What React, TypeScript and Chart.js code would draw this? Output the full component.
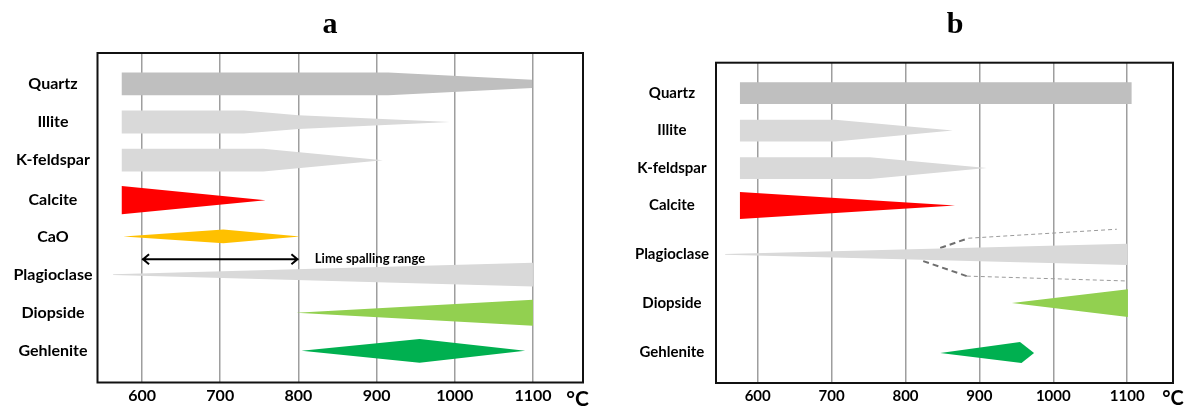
import React, { useEffect, useRef } from 'react';
import { Chart, registerables } from 'chart.js';

Chart.register(...registerables);

type Pt = [number, number];

// ---------- shared ----------
const tempTicks = [600, 700, 800, 900, 1000, 1100];
const unitLabel = '°C';

// ---------- panel a ----------
const titleA = 'a';
const mineralsA = ['Quartz', 'Illite', 'K-feldspar', 'Calcite', 'CaO', 'Plagioclase', 'Diopside', 'Gehlenite'];
const rowsA = [0, 1, 2, 3.05, 4, 5, 6, 7];
const unitTickA = 1157;
// outlines: [temperature °C, offset from the row centre in row units]
const quartzA: Pt[] = [[574, -0.3], [915, -0.3], [1099, -0.11], [1099, 0.11], [915, 0.3], [574, 0.3]];
const illiteA: Pt[] = [[574, -0.3], [730, -0.3], [800, -0.18], [994, 0], [800, 0.18], [730, 0.3], [574, 0.3]];
const kfeldsparA: Pt[] = [[574, -0.3], [755, -0.3], [908, 0], [755, 0.3], [574, 0.3]];
const calciteA: Pt[] = [[574, -0.37], [758, 0], [574, 0.37]];
const caoA: Pt[] = [[576, 0], [704, -0.18], [802, 0], [704, 0.18]];
const plagioclaseA: Pt[] = [[563, -0.01], [1100, -0.31], [1100, 0.31], [563, 0.01]];
const diopsideA: Pt[] = [[797, 0], [1100, -0.34], [1100, 0.34]];
const gehleniteA: Pt[] = [[804, 0], [955, -0.31], [1090, 0], [955, 0.31]];
const limeRange = [600, 800];
const limeRow = 4.6;
const limeLabel = 'Lime spalling range';
const limeLabelT = 821;

// ---------- panel b ----------
const titleB = 'b';
const mineralsB = ['Quartz', 'Illite', 'K-feldspar', 'Calcite', 'Plagioclase', 'Diopside', 'Gehlenite'];
const rowsB = [0, 1, 2, 3, 4.3, 5.6, 6.9];
const unitTickB = 1162;
const quartzB: Pt[] = [[576, -0.29], [1106, -0.29], [1106, 0.29], [576, 0.29]];
const illiteB: Pt[] = [[576, -0.29], [705, -0.29], [864, 0], [705, 0.29], [576, 0.29]];
const kfeldsparB: Pt[] = [[576, -0.29], [752, -0.29], [910, 0], [752, 0.29], [576, 0.29]];
const calciteB: Pt[] = [[576, -0.36], [867, 0], [576, 0.36]];
const plagioclaseB: Pt[] = [[556, -0.01], [1100, -0.285], [1100, 0.285], [556, 0.01]];
const diopsideB: Pt[] = [[944, 0], [1101, -0.37], [1101, 0.37]];
const gehleniteB: Pt[] = [[847, 0.03], [955, -0.26], [974, 0.03], [957, 0.3]];
const plagUpperDash: Pt[] = [[847, 4.13], [885, 3.87], [1086, 3.63]];
const plagLowerDash: Pt[] = [[824, 4.48], [883, 4.88], [1100, 5.01]];

// ---------- colours ----------
const darkGray = '#BFBFBF';
const lightGray = '#D9D9D9';
const red = '#FF0000';
const orange = '#FFC000';
const lightGreen = '#92D050';
const green = '#00B050';

const sans = 'Lato, "Open Sans", sans-serif';
const serif = '"Liberation Serif", "Times New Roman", serif';

function shape(label: string, pts: Pt[], row: number, color: string) {
  const data = pts.map(([t, o]) => ({ x: t, y: row + o }));
  data.push({ ...data[0] });
  return {
    label,
    data,
    backgroundColor: color,
    borderColor: 'rgba(0,0,0,0)',
    borderWidth: 0,
    pointRadius: 0,
    tension: 0,
    fill: 'shape',
  };
}

function dashed(label: string, pts: Pt[]) {
  return {
    label,
    data: pts.map(([x, y]) => ({ x, y })),
    borderColor: '#999999',
    borderWidth: 1,
    borderDash: [4, 3],
    pointRadius: 0,
    tension: 0,
    fill: false,
    segment: {
      borderWidth: (c: any) => (c.p0DataIndex === 0 ? 2 : 1),
      borderColor: (c: any) => (c.p0DataIndex === 0 ? '#6f6f6f' : '#9a9a9a'),
      borderDash: (c: any) => (c.p0DataIndex === 0 ? [6, 4] : [4, 3]),
    },
  };
}

const framePlugin = {
  id: 'frame',
  afterDraw(chart: any) {
    const { ctx, chartArea } = chart;
    ctx.save();
    ctx.strokeStyle = '#111';
    ctx.lineWidth = 2;
    ctx.strokeRect(chartArea.left, chartArea.top, chartArea.right - chartArea.left, chartArea.bottom - chartArea.top);
    ctx.restore();
  },
};

const limePlugin = {
  id: 'limeArrow',
  afterDatasetsDraw(chart: any) {
    const { ctx } = chart;
    const x = chart.scales.x;
    const y = chart.scales.y;
    const x0 = x.getPixelForValue(limeRange[0]);
    const x1 = x.getPixelForValue(limeRange[1]);
    const yy = y.getPixelForValue(limeRow);
    ctx.save();
    ctx.strokeStyle = '#000';
    ctx.lineWidth = 2;
    ctx.beginPath();
    ctx.moveTo(x0, yy);
    ctx.lineTo(x1, yy);
    ctx.moveTo(x0 + 7, yy - 5);
    ctx.lineTo(x0 + 1, yy);
    ctx.lineTo(x0 + 7, yy + 5);
    ctx.moveTo(x1 - 7, yy - 5);
    ctx.lineTo(x1 - 1, yy);
    ctx.lineTo(x1 - 7, yy + 5);
    ctx.stroke();
    ctx.font = 'bold 13px ' + sans;
    ctx.fillStyle = '#000';
    ctx.textAlign = 'left';
    ctx.textBaseline = 'middle';
    ctx.fillText(limeLabel, x.getPixelForValue(limeLabelT), yy - 1);
    ctx.restore();
  },
};

interface PanelCfg {
  title: string;
  names: string[];
  rows: number[];
  unitTick: number;
  xMin: number;
  xMax: number;
  yMin: number;
  yMax: number;
  yWidth: number;
  rightGap: number;
  xHeight: number;
  titleBottom: number;
  labelSize: number;
  labelPad: number;
  datasets: any[];
  plugins: any[];
}

const TITLE_SIZE = 30;
const TITLE_TOP = 7;

function makeConfig(p: PanelCfg): any {
  return {
    type: 'line',
    data: { datasets: p.datasets },
    plugins: p.plugins,
    options: {
      animation: false,
      responsive: false,
      events: [],
      layout: { padding: 0 },
      plugins: {
        legend: { display: false },
        tooltip: { enabled: false },
        title: {
          display: true,
          text: p.title,
          color: '#000',
          font: { family: serif, size: TITLE_SIZE, weight: 'bold' },
          padding: { top: TITLE_TOP, bottom: p.titleBottom },
        },
      },
      scales: {
        x: {
          type: 'linear',
          min: p.xMin,
          max: p.xMax,
          afterBuildTicks: (ax: any) => {
            ax.ticks = [...tempTicks, p.unitTick].map((v) => ({ value: v }));
          },
          afterFit: (ax: any) => {
            ax.height = p.xHeight;
          },
          grid: {
            color: (c: any) => (c.tick && c.tick.value === p.unitTick ? 'rgba(0,0,0,0)' : '#9E9E9E'),
            lineWidth: 1.5,
            drawTicks: false,
          },
          border: { display: false },
          ticks: {
            autoSkip: false,
            maxRotation: 0,
            padding: 4,
            color: '#000',
            font: (c: any) =>
              c.tick && c.tick.value === p.unitTick
                ? { family: sans, size: p.labelSize + 5, weight: 'bold' }
                : { family: sans, size: p.labelSize, weight: 'bold' },
            callback: (v: any) => (v === p.unitTick ? unitLabel : String(v)),
          },
        },
        y: {
          type: 'linear',
          reverse: true,
          min: p.yMin,
          max: p.yMax,
          afterBuildTicks: (ax: any) => {
            ax.ticks = p.rows.map((v) => ({ value: v }));
          },
          afterFit: (ax: any) => {
            ax.width = p.yWidth;
          },
          grid: { display: false, drawTicks: false },
          border: { display: false },
          ticks: {
            autoSkip: false,
            crossAlign: 'center',
            padding: p.labelPad,
            color: '#000',
            font: { family: sans, size: p.labelSize, weight: 'bold' },
            callback: (_v: any, i: number) => p.names[i],
          },
        },
        yRight: {
          type: 'linear',
          position: 'right',
          min: 0,
          max: 1,
          display: true,
          afterFit: (ax: any) => {
            ax.width = p.rightGap;
          },
          grid: { display: false, drawTicks: false },
          border: { display: false },
          ticks: { display: false },
        },
      },
    },
  };
}

function configA() {
  const colors = [darkGray, lightGray, lightGray, red, orange, lightGray, lightGreen, green];
  const outlines = [quartzA, illiteA, kfeldsparA, calciteA, caoA, plagioclaseA, diopsideA, gehleniteA];
  const datasets = outlines.map((o, i) => shape(mineralsA[i], o, rowsA[i], colors[i]));
  return makeConfig({
    title: titleA,
    names: mineralsA,
    rows: rowsA,
    unitTick: unitTickA,
    xMin: 543,
    xMax: 1164,
    yMin: -0.81,
    yMax: 7.83,
    yWidth: 97.5,
    rightGap: 77,
    xHeight: 25.5,
    titleBottom: 53 - TITLE_TOP - TITLE_SIZE * 1.2,
    labelSize: 16,
    labelPad: 5,
    datasets,
    plugins: [limePlugin, framePlugin],
  });
}

function configB() {
  const colors = [darkGray, lightGray, lightGray, red, lightGray, lightGreen, green];
  const outlines = [quartzB, illiteB, kfeldsparB, calciteB, plagioclaseB, diopsideB, gehleniteB];
  const datasets: any[] = outlines.map((o, i) => shape(mineralsB[i], o, rowsB[i], colors[i]));
  datasets.push(dashed('upper', plagUpperDash));
  datasets.push(dashed('lower', plagLowerDash));
  return makeConfig({
    title: titleB,
    names: mineralsB,
    rows: rowsB,
    unitTick: unitTickB,
    xMin: 543.6,
    xMax: 1162,
    yMin: -0.81,
    yMax: 7.73,
    yWidth: 120,
    rightGap: 141,
    xHeight: 25,
    titleBottom: 62.7 - TITLE_TOP - TITLE_SIZE * 1.2,
    labelSize: 15,
    labelPad: 7,
    datasets,
    plugins: [framePlugin],
  });
}

export default function App() {
  const refA = useRef<HTMLCanvasElement>(null);
  const refB = useRef<HTMLCanvasElement>(null);
  useEffect(() => {
    const a = new Chart(refA.current as HTMLCanvasElement, configA());
    const b = new Chart(refB.current as HTMLCanvasElement, configB());
    return () => {
      a.destroy();
      b.destroy();
    };
  }, []);
  return (
    <div style={{ position: 'fixed', left: 0, top: 0, width: 1192, height: 408, overflow: 'hidden', background: '#fff' }}>
      <canvas ref={refA} width={660} height={408} style={{ position: 'absolute', left: 0, top: 0 }} />
      <canvas ref={refB} width={718} height={408} style={{ position: 'absolute', left: 596, top: 0 }} />
    </div>
  );
}
